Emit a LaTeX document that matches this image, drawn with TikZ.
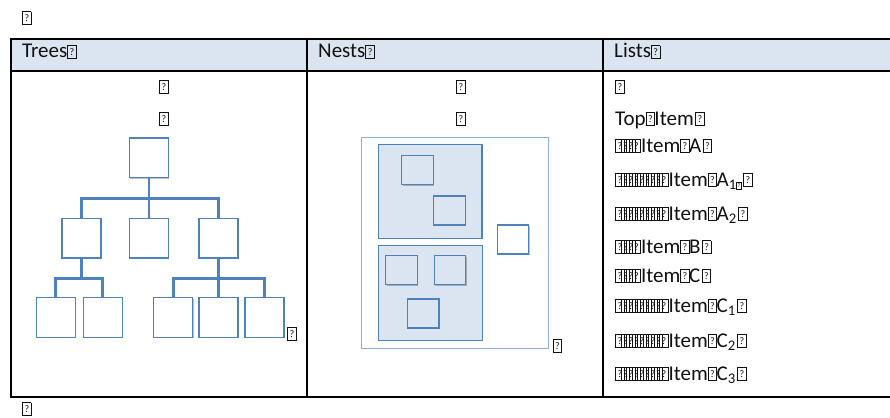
\documentclass[tikz,border=0pt]{standalone}
\usepackage{fontspec}
\setmainfont{Carlito}
\usepackage{graphicx}
\usepackage{tikz}
\usetikzlibrary{shadows}
\definecolor{tbHead}{HTML}{DBE5F1}
\definecolor{tbBlue}{HTML}{4F81BD}
\definecolor{tbPale}{HTML}{8EAFD8}
\definecolor{tbInk}{HTML}{111111}
% missing-glyph box, as the reference prints it
\newcommand\tofu{{\setlength\fboxsep{0.3pt}\setlength\fboxrule{0.85pt}%
  \fbox{\parbox[b][11.5pt][c]{7pt}{\centering\fontsize{10}{10}\selectfont ?}}}}
\newcommand\narrowtofu{\makebox[8.8pt][l]{\tofu}}
\newcommand\tofurun[1]{\foreach \k in {2,...,#1}{\makebox[5.5pt][l]{\tofu}}\tofu}
\tikzset{
  tb diagram/.style={x=1pt, y=-1pt, font=\fontsize{21}{25}\selectfont,
    text=tbInk, line join=miter},
  tb rule/.style={draw=black, line width=2pt},
  tb text/.style={anchor=base west, inner sep=0pt},
  tb mark/.style={anchor=base, inner sep=0pt},
  tb shadow/.style={drop shadow={shadow xshift=0.8pt, shadow yshift=-1pt,
    opacity=0.25, fill=black}},
  tree box/.style={draw=tbBlue, fill=white, line width=1.3pt, inner sep=0pt,
    minimum width=39pt, minimum height=39.5pt, tb shadow},
  tree link/.style={draw=tbBlue, line width=2.8pt},
  nest frame/.style={draw=tbPale, fill=white, line width=1pt, inner sep=0pt},
  nest group/.style={draw=tbBlue, fill=tbHead, line width=1.2pt, inner sep=0pt,
    tb shadow},
  nest box/.style={draw=tbBlue, fill=tbHead, line width=1.3pt, inner sep=0pt,
    minimum width=31.5pt, minimum height=29pt, tb shadow}
}
\begin{document}
\begin{tikzpicture}[tb diagram]
\useasboundingbox (0,0) rectangle (890,417);
% table
\fill[tbHead] (11,39) rectangle (890,71.5);
\draw[tb rule] (890,39) -- (11,39) -- (11,397) -- (890,397);
\draw[tb rule] (11,71.5) -- (890,71.5);
\foreach \x in {306.5,602.5} \draw[tb rule] (\x,39) -- (\x,397);
\node[tb text] (markTop) at (22,24) {\tofu};
\node[tb text] (markEnd) at (22,415) {\tofu};
\foreach \x/\head in {22/Trees,318/Nests,614/Lists}
  \node[tb text] (head\head) at (\x,58) {\head\tofu};
\foreach \x/\col in {164/T,461/N}{
  \node[tb mark] (mark\col a) at (\x,93) {\tofu};
  \node[tb mark] (mark\col b) at (\x,125) {\tofu};
}
% trees
\node[tree box] (root) at (149,157.8) {};
\foreach \n/\x in {a/81.5,b/149,c/218.5}
  \node[tree box] (\n) at (\x,238.3) {};
\foreach \n/\x in {a1/55.8,a2/102.8,c1/173.2,c2/218.5,c3/264.5}
  \node[tree box] (\n) at (\x,317.5) {};
\foreach \n in {a,b,c} \draw[tree link] (root.south) -- +(0,20) -| (\n.north);
\foreach \n in {a1,a2} \draw[tree link] (a.south) -- +(0,19.4) -| (\n.north);
\foreach \n in {c1,c2,c3} \draw[tree link] (c.south) -- +(0,19.4) -| (\n.north);
\node[tb text] (markTree) at (287,340) {\tofu};
% nests
\node[nest frame, minimum width=187pt, minimum height=211pt] (outer) at (454.8,243.2) {};
\node[nest group, minimum width=103.7pt, minimum height=94pt] (upper) at (430.2,191.3) {};
\node[nest group, minimum width=104pt, minimum height=95pt] (lower) at (430.3,292.8) {};
\foreach \n/\x/\y in {n1/417.5/170,n2/449.5/210.5,n3/401.5/270.3,n4/450/270.3,n5/423.3/313.5}
  \node[nest box] (\n) at (\x,\y) {};
\node[nest box, fill=white] (loose) at (513,239.5) {};
\node[tb text] (markNest) at (552.5,352) {\tofu};
% lists
\foreach \y/\entry [count=\i] in {
  93/{\tofu},
  125/{Top\makebox[8.8pt][l]{\tofu}Item\hspace{1.5pt}\tofu},
  152/{\tofurun{4}Item\narrowtofu A\hspace{1.5pt}\tofu},
  186/{\tofurun{9}Item\narrowtofu A\textsubscript{1\scalebox{.6}{\tofu}}\hspace{1pt}\tofu},
  220/{\tofurun{9}Item\narrowtofu A\textsubscript{2}\hspace{1.5pt}\tofu},
  253/{\tofurun{4}Item\narrowtofu B\hspace{1.5pt}\tofu},
  282/{\tofurun{4}Item\narrowtofu C\hspace{1.5pt}\tofu},
  312/{\tofurun{9}Item\narrowtofu C\textsubscript{1}\hspace{1.5pt}\tofu},
  347/{\tofurun{9}Item\narrowtofu C\textsubscript{2}\hspace{1.5pt}\tofu},
  380/{\tofurun{9}Item\narrowtofu C\textsubscript{3}\hspace{1.5pt}\tofu}}
  \node[tb text] (line\i) at (615,\y) {\entry};
\end{tikzpicture}
\end{document}
